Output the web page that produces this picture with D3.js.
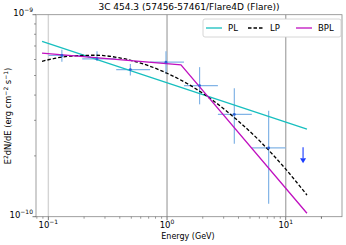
<!DOCTYPE html>
<html>
<head>
<meta charset="utf-8">
<script src="https://cdn.jsdelivr.net/npm/d3@7"></script>
<style>
  body { margin: 0; background: #fff; }
  svg text { font-family: "DejaVu Sans", sans-serif; }
</style>
</head>
<body>
<div id="chart"></div>
<script>
// binned SED points (GeV, erg cm^-2 s^-1)
const binE = [0.130, 0.257, 0.491, 0.98, 1.88, 3.69, 7.18];
const binLo = [0.100, 0.193, 0.373, 0.720, 1.389, 2.683, 5.179];
const binHi = [0.193, 0.373, 0.720, 1.389, 2.683, 5.179, 10.0];
const binF = [6.28e-10, 6.04e-10, 5.35e-10, 5.82e-10, 4.46e-10, 3.21e-10, 2.19e-10];
const binFLo = [5.85e-10, 5.9e-10, 5.0e-10, 5.1e-10, 3.6e-10, 2.3e-10, 1.16e-10];
const binFHi = [6.7e-10, 6.6e-10, 5.7e-10, 6.6e-10, 5.5e-10, 4.33e-10, 3.35e-10];
const ulE = [14.0];
const ulF = [2.21e-10];

// model curves
const plE = [0.0885, 15.1];
const plF = [7.38e-10, 2.71e-10];
const lpE = [0.0885, 0.15, 0.25, 0.4, 0.7, 1.0, 1.5, 2.5, 4, 6, 10, 15.1];
const lpF = [5.88e-10, 6.23e-10, 6.30e-10, 6.11e-10, 5.59e-10, 5.13e-10, 4.54e-10, 3.72e-10, 2.97e-10, 2.38e-10, 1.72e-10, 1.28e-10];
const bplE = [0.0885, 1.31, 15.1];
const bplF = [6.45e-10, 5.65e-10, 1.04e-10];

const models = ["PL", "LP", "BPL"];
const xTicks = [0.1, 1, 10];
const yTicks = [1e-10, 1e-9];

const W = 346, H = 245;
const margin = {top: 14.7, right: 4, bottom: 28.3, left: 36};
const width = W - margin.left - margin.right;
const height = H - margin.top - margin.bottom;

const svg = d3.select("#chart").append("svg")
    .attr("width", W)
    .attr("height", H);

const g = svg.append("g")
    .attr("transform", `translate(${margin.left},${margin.top})`);

const x = d3.scaleLog().domain([0.0787, 29.8]).range([0, width]);
const y = d3.scaleLog().domain([1e-10, 1e-9]).range([height, 0]);

// vertical grid lines at decades
g.selectAll(".grid")
    .data(xTicks)
    .enter().append("line")
    .attr("x1", d => x(d)).attr("x2", d => x(d))
    .attr("y1", 0).attr("y2", height)
    .attr("stroke", (d, i) => i === 0 ? "#d4d4d4" : "#b0b0b0")
    .attr("stroke-width", 1.4);

// frame
g.append("rect")
    .attr("width", width).attr("height", height)
    .attr("fill", "none")
    .attr("stroke", "#888").attr("stroke-width", 0.8);

const sup = (sel, base, exp) => {
    sel.append("tspan").text(base);
    sel.append("tspan").attr("dy", -4).attr("font-size", 6).text(exp);
};

// x axis
const xMinor = [];
[0.1, 1, 10].forEach(dec => { for (let k = 2; k <= 9; k++) xMinor.push(dec * k); });
xMinor.push(0.08, 0.09, 20);
g.selectAll(".xminor")
    .data(xMinor.filter(d => d >= 0.0787 && d <= 29.8))
    .enter().append("line")
    .attr("x1", d => x(d)).attr("x2", d => x(d))
    .attr("y1", height).attr("y2", height + 2)
    .attr("stroke", "#555").attr("stroke-width", 0.6);
g.selectAll(".xmajor")
    .data(xTicks)
    .enter().append("line")
    .attr("x1", d => x(d)).attr("x2", d => x(d))
    .attr("y1", height).attr("y2", height + 3.5)
    .attr("stroke", "#555").attr("stroke-width", 0.8);
g.selectAll(".xlab")
    .data(xTicks)
    .enter().append("text")
    .attr("x", d => x(d))
    .attr("y", height + 11.5)
    .attr("text-anchor", "middle")
    .attr("font-size", 8.5)
    .each(function(d) { sup(d3.select(this), "10", String(Math.round(Math.log10(d))).replace("-", "\u2212")); });

// y axis
const yMinor = [];
for (let k = 2; k <= 9; k++) yMinor.push(k * 1e-10);
g.selectAll(".yminor")
    .data(yMinor)
    .enter().append("line")
    .attr("x1", -2).attr("x2", 0)
    .attr("y1", d => y(d)).attr("y2", d => y(d))
    .attr("stroke", "#555").attr("stroke-width", 0.6);
g.selectAll(".ymajor")
    .data(yTicks)
    .enter().append("line")
    .attr("x1", -3.5).attr("x2", 0)
    .attr("y1", d => y(d)).attr("y2", d => y(d))
    .attr("stroke", "#555").attr("stroke-width", 0.8);
g.selectAll(".ylab")
    .data(yTicks)
    .enter().append("text")
    .attr("x", -3)
    .attr("y", d => y(d) + 1)
    .attr("text-anchor", "end")
    .attr("font-size", 8.5)
    .each(function(d) { sup(d3.select(this), "10", String(Math.round(Math.log10(d))).replace("-", "\u2212")); });

// axis labels
svg.append("text")
    .attr("x", 188)
    .attr("y", 239)
    .attr("text-anchor", "middle")
    .attr("font-size", 8)
    .text("Energy (GeV)");

const yl = svg.append("text")
    .attr("transform", "translate(11,116) rotate(-90)")
    .attr("text-anchor", "middle")
    .attr("font-size", 8.3);
yl.append("tspan").text("E");
yl.append("tspan").attr("dy", -3).attr("font-size", 6).text("2");
yl.append("tspan").attr("dy", 3).text("dN/dE (erg cm");
yl.append("tspan").attr("dy", -3).attr("font-size", 6).text("\u22122");
yl.append("tspan").attr("dy", 3).text(" s");
yl.append("tspan").attr("dy", -3).attr("font-size", 6).text("\u22121");
yl.append("tspan").attr("dy", 3).text(")");

// title
svg.append("text")
    .attr("x", margin.left + width / 2)
    .attr("y", 10)
    .attr("text-anchor", "middle")
    .attr("font-size", 9)
    .text("3C 454.3 (57456-57461/Flare4D (Flare))");

// error bars
const pts = binE.map((e, i) => ({e, lo: binLo[i], hi: binHi[i], f: binF[i], flo: binFLo[i], fhi: binFHi[i]}));
const eb = g.append("g").attr("stroke", "#82b4e6").attr("stroke-width", 1.2);
eb.selectAll(".h").data(pts).enter().append("line")
    .attr("x1", d => x(d.lo)).attr("x2", d => x(d.hi))
    .attr("y1", d => y(d.f)).attr("y2", d => y(d.f));
eb.selectAll(".v").data(pts).enter().append("line")
    .attr("x1", d => x(d.e)).attr("x2", d => x(d.e))
    .attr("y1", d => y(d.flo)).attr("y2", d => y(d.fhi));

// model lines
const line = d3.line().x(d => x(d[0])).y(d => y(d[1]));
g.append("path")
    .datum(plE.map((e, i) => [e, plF[i]]))
    .attr("d", line).attr("fill", "none")
    .attr("stroke", "#17bfbf").attr("stroke-width", 1.3);
g.append("path")
    .datum(lpE.map((e, i) => [e, lpF[i]]))
    .attr("d", d3.line().x(d => x(d[0])).y(d => y(d[1])).curve(d3.curveMonotoneX)).attr("fill", "none")
    .attr("stroke", "#000").attr("stroke-width", 1.3)
    .attr("stroke-dasharray", "3.5,2");
g.append("path")
    .datum(bplE.map((e, i) => [e, bplF[i]]))
    .attr("d", line).attr("fill", "none")
    .attr("stroke", "#c010c0").attr("stroke-width", 1.3);

// data markers
g.selectAll(".pt").data(pts).enter().append("circle")
    .attr("cx", d => x(d.e)).attr("cy", d => y(d.f))
    .attr("r", 1.4).attr("fill", "#2a5fd6");

// upper limit
ulE.forEach((e, i) => {
    const cx = x(e), cy = y(ulF[i]);
    g.append("line")
        .attr("x1", cx).attr("x2", cx)
        .attr("y1", cy).attr("y2", cy + 11)
        .attr("stroke", "#1a3cff").attr("stroke-width", 1.1);
    g.append("path")
        .attr("d", `M${cx - 3},${cy + 11}L${cx + 3},${cy + 11}L${cx},${cy + 16}Z`)
        .attr("fill", "#1a3cff");
});

// legend
const lg = svg.append("g").attr("transform", "translate(203,19)");
lg.append("rect")
    .attr("width", 138).attr("height", 18).attr("rx", 2)
    .attr("fill", "#fff").attr("stroke", "#ccc").attr("stroke-width", 0.8);
const lstyle = [
    {c: "#17bfbf", dash: null},
    {c: "#000", dash: "3.5,2"},
    {c: "#c010c0", dash: null}
];
const lx = [3, 45, 93];
models.forEach((m, i) => {
    lg.append("line")
        .attr("x1", lx[i]).attr("x2", lx[i] + 16)
        .attr("y1", 9).attr("y2", 9)
        .attr("stroke", lstyle[i].c).attr("stroke-width", 1.3)
        .attr("stroke-dasharray", lstyle[i].dash);
    lg.append("text")
        .attr("x", lx[i] + 22).attr("y", 12)
        .attr("font-size", 8.5)
        .text(m);
});
</script>
</body>
</html>
